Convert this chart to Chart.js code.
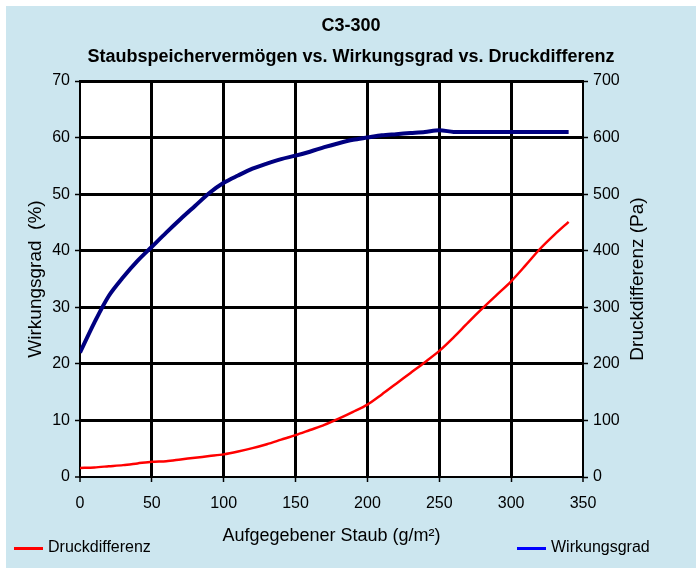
<!DOCTYPE html>
<html lang="de">
<head>
<meta charset="utf-8">
<title>C3-300 Staubspeichervermögen</title>
<script src="https://cdn.jsdelivr.net/npm/chart.js@4/dist/chart.umd.min.js"></script>
<style>
  html, body { margin: 0; padding: 0; background: #fff; }
  .frame {
    position: absolute; left: 6px; top: 6px;
    width: 690px; height: 562px;
    background: #cce6ef;
  }
  canvas { display: block; }
</style>
</head>
<body>
<div class="frame"><canvas id="chart" width="690" height="562"></canvas></div>
<script>
/* ============================================================
   C3-300 — Staubspeichervermögen vs. Wirkungsgrad vs. Druckdifferenz
   Chart.js 4, two y axes (% left, Pa right)
   ============================================================ */

// Aufgegebener Staub (g/m²)
var DUST = [0, 10, 20, 30, 40, 50, 60, 70, 80, 90, 100, 110, 120, 130, 140, 150, 160,
  170, 180, 190, 200, 210, 220, 230, 240, 250, 260, 270, 280, 290, 300, 310, 320, 330, 340];

// Wirkungsgrad (%)
var EFFICIENCY = [22, 27.3, 32, 35.3, 38.2, 40.7, 43.2, 45.6, 47.9, 50.2, 52, 53.3, 54.5, 55.4,
  56.2, 56.8, 57.5, 58.3, 59, 59.6, 60, 60.4, 60.6, 60.8, 61, 61.3, 61, 61, 61, 61, 61, 61, 61, 61, 61];

// Druckdifferenz (Pa)
var PRESSURE = [16, 17, 19, 21, 24, 27, 28, 31, 34, 37, 40, 45, 51, 58, 66, 74, 83, 92, 103, 115,
  128, 146, 165, 184, 203, 223, 247, 273, 298, 322, 346, 374, 403, 428, 451];

var TITLE_LINES = ['C3-300', 'Staubspeichervermögen vs. Wirkungsgrad vs. Druckdifferenz'];
var X_TITLE = 'Aufgegebener Staub (g/m²)';
var Y_LEFT_TITLE = 'Wirkungsgrad  (%)';
var Y_RIGHT_TITLE = 'Druckdifferenz (Pa)';

(function () {
  'use strict';

  var FONT = "'Liberation Sans', Arial, sans-serif";
  var RED = '#ff0000';
  var NAVY = '#000080';

  // per-tick grid widths: edges are drawn by the axis borders instead
  function yGridWidth(c) { return c.tick && c.tick.value === 0 ? 0 : 3; }
  function xGridWidth(c) {
    if (!c.tick) return 3;
    return (c.tick.value === 0 || c.tick.value === 350) ? 0 : 3;
  }

  var plotBackground = {
    id: 'plotBackground',
    beforeDraw: function (chart) {
      var a = chart.chartArea;
      var ctx = chart.ctx;
      ctx.save();
      ctx.fillStyle = '#ffffff';
      ctx.fillRect(a.left, a.top, a.right - a.left, a.bottom - a.top);
      ctx.restore();
    }
  };

  // right title reads bottom-to-top, and the legend sits at both corners
  var extras = {
    id: 'extras',
    afterDraw: function (chart) {
      var ctx = chart.ctx;
      var a = chart.chartArea;
      ctx.save();
      ctx.fillStyle = '#000';
      ctx.font = '19px ' + FONT;
      ctx.textAlign = 'center';
      ctx.textBaseline = 'middle';
      ctx.translate(632, (a.top + a.bottom) / 2);
      ctx.rotate(-Math.PI / 2);
      ctx.fillText(Y_RIGHT_TITLE, 0, 0);
      ctx.restore();

      var items = [
        { text: 'Druckdifferenz', color: RED, x: 8 },
        { text: 'Wirkungsgrad', color: '#0000ff', x: 511 }
      ];
      ctx.save();
      ctx.font = '16px ' + FONT;
      ctx.textAlign = 'left';
      ctx.textBaseline = 'middle';
      items.forEach(function (it) {
        ctx.strokeStyle = it.color;
        ctx.lineWidth = 3;
        ctx.beginPath();
        ctx.moveTo(it.x, 542.5);
        ctx.lineTo(it.x + 29, 542.5);
        ctx.stroke();
        ctx.fillStyle = '#000';
        ctx.fillText(it.text, it.x + 34, 542);
      });
      ctx.restore();
    }
  };

  var tickFont = { family: FONT, size: 16 };

  new Chart(document.getElementById('chart'), {
    type: 'line',
    data: {
      datasets: [
        {
          label: 'Wirkungsgrad',
          data: DUST.map(function (x, i) { return { x: x, y: EFFICIENCY[i] }; }),
          yAxisID: 'y',
          borderColor: NAVY,
          borderWidth: 4,
          pointRadius: 0,
          tension: 0.3,
          fill: false
        },
        {
          label: 'Druckdifferenz',
          data: DUST.map(function (x, i) { return { x: x, y: PRESSURE[i] }; }),
          yAxisID: 'y2',
          borderColor: RED,
          borderWidth: 2.5,
          pointRadius: 0,
          tension: 0.3,
          fill: false
        }
      ]
    },
    options: {
      responsive: false,
      animation: false,
      layout: { padding: 0 },
      plugins: {
        legend: { display: false },
        tooltip: { enabled: false },
        title: {
          display: true,
          text: TITLE_LINES,
          color: '#000',
          font: { family: FONT, size: 18, weight: 'bold', lineHeight: 31 / 18 },
          padding: { top: 4.5, bottom: 8.5 }
        }
      },
      scales: {
        x: {
          type: 'linear',
          min: 0, max: 350,
          ticks: { stepSize: 50, color: '#000', font: tickFont, padding: 12 },
          grid: { color: '#000', lineWidth: xGridWidth, tickLength: 5, tickWidth: 1.5, tickColor: '#000' },
          border: { display: true, color: '#000', width: 2 },
          title: { display: true, text: X_TITLE, color: '#000', font: { family: FONT, size: 18 }, padding: { top: 0, bottom: 21 } },
          afterFit: function (s) { s.height = 91; }
        },
        y: {
          position: 'left',
          min: 0, max: 70,
          ticks: { stepSize: 10, color: '#000', font: tickFont, padding: 5 },
          grid: { color: '#000', lineWidth: yGridWidth, tickLength: 5, tickWidth: 1.5, tickColor: '#000' },
          border: { display: true, color: '#000', width: 2 },
          title: { display: true, text: Y_LEFT_TITLE, color: '#000', font: { family: FONT, size: 19 }, padding: { top: 18.6, bottom: 0 } },
          afterFit: function (s) { s.width = 74; }
        },
        y2: {
          position: 'right',
          min: 0, max: 700,
          ticks: { stepSize: 100, color: '#000', font: tickFont, padding: 5 },
          grid: { drawOnChartArea: false, color: '#000', tickLength: 5, tickWidth: 1.5, tickColor: '#000' },
          border: { display: true, color: '#000', width: 2 },
          afterFit: function (s) { s.width = 113; }
        }
      }
    },
    plugins: [plotBackground, extras]
  });
})();
</script>
</body>
</html>
